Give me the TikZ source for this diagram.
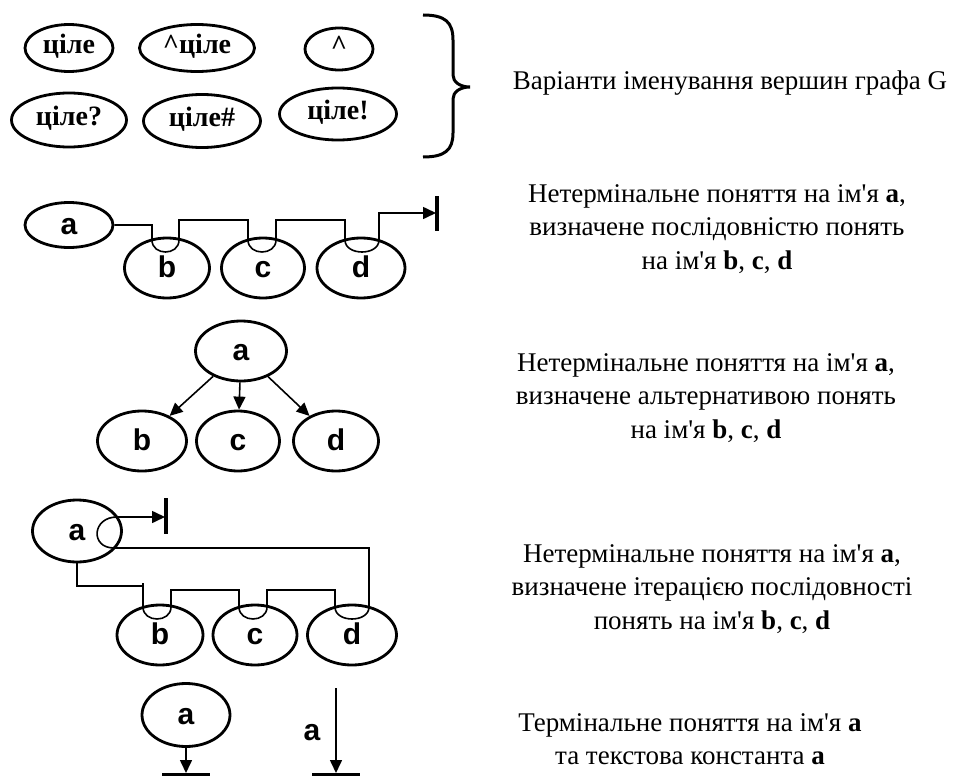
\documentclass[tikz,border=0pt]{standalone}
\usepackage{fontspec}
\setmainfont{Liberation Serif}
\newfontfamily\sansb{Liberation Sans}
\usetikzlibrary{shapes.geometric,arrows.meta,calc}
\newcommand{\apos}{\textquotesingle}
\tikzset{
  ell/.style={draw, ellipse, line width=2.8pt, inner sep=0pt, minimum width=88pt, minimum height=60pt,
              text height=19pt, text depth=0pt,
              font=\sansb\fontsize{30}{30}\selectfont\bfseries},
  nameell/.style={draw, ellipse, line width=2.8pt, inner sep=0pt, minimum width=88pt, minimum height=47pt,
              text height=11pt, text depth=0pt,
              font=\fontsize{28}{28}\selectfont\bfseries},
  conn/.style={line width=1.6pt},
  arr/.style={line width=1.6pt, -{Triangle[length=13pt,width=12pt]}},
  bar/.style={line width=3.2pt},
  capt/.style={align=center, font=\fontsize{27}{33.5}\selectfont},
  plainlab/.style={font=\sansb\fontsize{30}{30}\selectfont\bfseries}
}
\begin{document}
\begin{tikzpicture}[x=1pt,y=-1pt]
\useasboundingbox (0,0) rectangle (954,776);
% ---------- naming variants ----------
\node[nameell] (n1) at (69,48) {ціле};
\node[nameell, minimum width=115pt] (n2) at (197,48) {\textasciicircum ціле};
\node[nameell, minimum width=68pt, minimum height=42pt] (n3) at (339,49) {\textasciicircum};
\node[nameell, minimum width=115pt, minimum height=54pt] (n4) at (69,120) {ціле?};
\node[nameell, minimum width=117pt, minimum height=53pt] (n5) at (202,121) {ціле\#};
\node[nameell, minimum width=117pt, minimum height=52pt] (n6) at (338,114) {ціле!};
\draw[line width=3pt] (423,15) .. controls (445,15) and (453,22) .. (453,40) -- (453,75)
   .. controls (453,82) and (460,87) .. (470,87) .. controls (460,87) and (453,92) .. (453,99)
   -- (453,133) .. controls (453,150) and (445,157) .. (423,157);
\node[capt] (c1) at (730,83) {Варіанти іменування вершин графа G};
% ---------- sequence ----------
\node[ell, minimum height=45pt] (sa) at (69,225) {a};
\node[ell, minimum width=85pt] (sb) at (167,268) {b};
\node[ell, minimum width=83pt] (sc) at (263,268) {c};
\node[ell, minimum width=88pt] (sd) at (361,268) {d};
\coordinate (sbL) at ($(sb.center)+(-15,-28)$);
\coordinate (sbR) at ($(sb.center)+(12,-28)$);
\coordinate (scL) at ($(sc.center)+(-15,-28)$);
\coordinate (scR) at ($(sc.center)+(13,-28)$);
\coordinate (sdL) at ($(sd.center)+(-16,-28)$);
\coordinate (sdR) at ($(sd.center)+(18,-28)$);
\coordinate (send) at (437,213);
\draw[conn] (sa.east) -| (sbL) .. controls ($(sbL)+(0,16)$) and ($(sbR)+(0,16)$) .. (sbR)
   -- ++(0,-20) -| (scL) .. controls ($(scL)+(0,16)$) and ($(scR)+(0,16)$) .. (scR)
   -- ++(0,-20) -| (sdL) .. controls ($(sdL)+(0,16)$) and ($(sdR)+(0,16)$) .. (sdR);
\draw[arr] (sdR) |- ($(send)+(-1,0)$);
\draw[bar] ($(send)+(0,-17)$) -- ($(send)+(0,18)$);
\node[capt] (c2) at (717,229) {Нетермінальне поняття на ім\apos я \textbf{a},\\визначене послідовністю понять\\на ім\apos я \textbf{b}, \textbf{c}, \textbf{d}};
% ---------- alternative ----------
\node[ell, minimum width=91pt] (aa) at (241,351) {a};
\node[ell, minimum width=89pt] (ab) at (142,441) {b};
\node[ell, minimum width=83pt] (ac) at (238,441) {c};
\node[ell, minimum width=85pt] (ad) at (336,441) {d};
\draw[arr] (aa) -- (ab);
\draw[arr] (aa) -- (ac);
\draw[arr] (aa) -- (ad);
\node[capt] (c3) at (706,398) {Нетермінальне поняття на ім\apos я \textbf{a},\\визначене альтернативою понять\\на ім\apos я \textbf{b}, \textbf{c}, \textbf{d}};
% ---------- iteration ----------
\node[ell, minimum width=89pt, minimum height=62pt] (ia) at (77,531) {a};
\node[ell, minimum width=86pt] (ib) at (160,635) {b};
\node[ell, minimum width=84pt] (ic) at (255,635) {c};
\node[ell, minimum width=89pt] (id) at (352,635) {d};
\coordinate (iaT) at ($(ia.center)+(40,-14)$);
\coordinate (iaB) at ($(ia.center)+(37,17)$);
\coordinate (iend) at (166,517);
\draw[conn] (iaT) .. controls ($(iaT)+(-25,0)$) and ($(iaB)+(-24,0)$) .. (iaB);
\draw[arr] (iaT) -- ($(iend)+(-1,0)$);
\draw[bar] ($(iend)+(0,-19)$) -- ($(iend)+(0,17)$);
\coordinate (ibL) at ($(ib.center)+(-17,-28)$);
\coordinate (ibR) at ($(ib.center)+(11,-28)$);
\coordinate (icL) at ($(ic.center)+(-16,-28)$);
\coordinate (icR) at ($(ic.center)+(12,-28)$);
\coordinate (idL) at ($(id.center)+(-17,-28)$);
\coordinate (idR) at ($(id.center)+(17,-28)$);
\draw[conn] (ia.south) |- ($(ibL)+(0,-21)$);
\draw[conn] ($(ibL)+(0,-24)$) -- (ibL) .. controls ($(ibL)+(0,16)$) and ($(ibR)+(0,16)$) .. (ibR)
   -- ++(0,-17) -| (icL) .. controls ($(icL)+(0,16)$) and ($(icR)+(0,16)$) .. (icR)
   -- ++(0,-17) -| (idL) .. controls ($(idL)+(0,16)$) and ($(idR)+(0,16)$) .. (idR)
   |- (iaB);
\node[capt] (c4) at (712,589) {Нетермінальне поняття на ім\apos я \textbf{a},\\визначене ітерацією послідовності\\понять на ім\apos я \textbf{b}, \textbf{c}, \textbf{d}};
% ---------- terminal ----------
\node[ell, minimum width=88pt, minimum height=63pt] (ta) at (186,715) {a};
\coordinate (tbar) at (186,775);
\draw[arr] (ta.south) -- ($(tbar)+(0,-2)$);
\draw[bar, line width=4pt] ($(tbar)+(-24,0)$) -- ($(tbar)+(24,0)$);
\coordinate (kTop) at (336,688);
\coordinate (kbar) at (336,775);
\draw[arr] (kTop) -- ($(kbar)+(0,-2)$);
\draw[bar, line width=4pt] ($(kbar)+(-24,0)$) -- ($(kbar)+(24,0)$);
\node[plainlab] (kl) at (312,733) {a};
\node[capt] (c5) at (690,739) {Термінальне поняття на ім\apos я \textbf{a}\\та текстова константа \textbf{a}};
\end{tikzpicture}
\end{document}
